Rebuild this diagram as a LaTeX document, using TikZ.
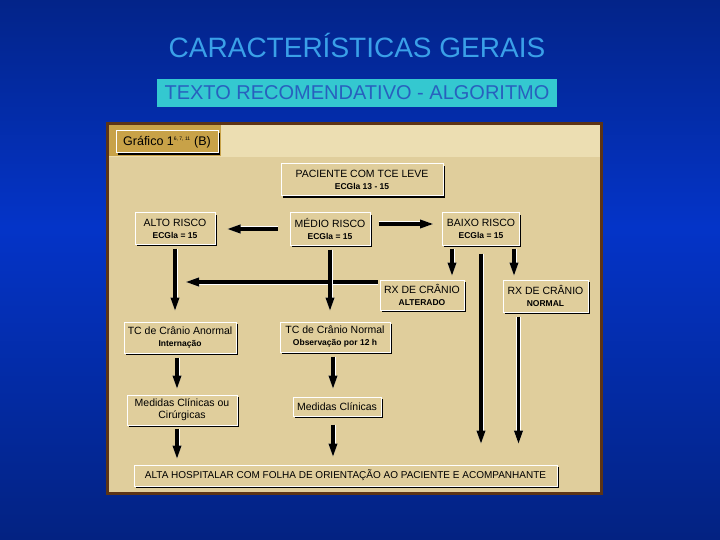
\documentclass[tikz,border=0pt]{standalone}
\usepackage{fontspec}
\setmainfont{Liberation Sans}
\usetikzlibrary{positioning}
\usetikzlibrary{arrows.meta}
\usetikzlibrary{shadows}

\definecolor{fundoescuro}{RGB}{2,26,98}
\definecolor{fundoclaro}{RGB}{4,52,200}
\definecolor{titulo}{RGB}{58,160,232}
\definecolor{faixa}{RGB}{52,200,208}
\definecolor{textofaixa}{RGB}{40,96,190}
\definecolor{painel}{RGB}{224,206,156}
\definecolor{painelclaro}{RGB}{236,222,178}
\definecolor{dourado}{RGB}{200,162,72}
\definecolor{moldura}{RGB}{92,52,22}

\pgfdeclareverticalshading{fundo}{100bp}{color(0bp)=(fundoescuro); color(12bp)=(fundoescuro);
  color(54bp)=(fundoclaro); color(88bp)=(fundoescuro); color(100bp)=(fundoescuro)}

\newcommand{\linhab}[1]{{\fontsize{8.5}{10}\selectfont\bfseries #1}}

\tikzset{
  caixa/.style={draw=white, line width=1pt, fill=painel, align=center, inner sep=1pt,
    general shadow={shadow xshift=1.6pt, shadow yshift=-1.6pt, fill=black},
    font=\fontsize{10.5}{12}\selectfont},
  seta/.style={line width=3.4pt, -{Triangle[length=14pt,width=8pt]},
    preaction={draw=white, line width=5pt}},
}

\begin{document}
\begin{tikzpicture}[x=1pt,y=-1pt]
\useasboundingbox (0,0) rectangle (720,540);
% fundo
\shade[shading=fundo] (0,0) rectangle (720,540);

% titulos
\node[text=titulo, font=\fontsize{28}{30}\selectfont] (titulo) at (357,45) {CARACTERÍSTICAS GERAIS};
\node[fill=faixa, text=textofaixa, minimum width=400pt, minimum height=28pt, inner sep=0pt,
  font=\fontsize{20}{22}\selectfont] (subtitulo) at (357,93) {TEXTO RECOMENDATIVO - ALGORITMO};

% painel
\draw[moldura, line width=3pt, fill=painel] (107,124) rectangle (601,493);
\fill[painelclaro] (108.5,125.5) rectangle (599.5,157);
\fill[dourado] (108.5,125.5) rectangle (221,156);
\node[caixa, fill=dourado, minimum width=102pt, minimum height=22pt, font=\fontsize{12.5}{14}\selectfont]
  (grafico) at (167,142) {Gráfico 1\textsuperscript{\fontsize{5}{5}\selectfont 6, 7, 11} (B)};

% caixas
\node[caixa, minimum width=162pt, minimum height=32pt] (paciente) at (362,180) {PACIENTE COM TCE LEVE\\\linhab{ECGla 13 - 15}};
\node[caixa, minimum width=80pt, minimum height=31pt] (alto) at (175,228.5) {ALTO RISCO\\\linhab{ECGla = 15}};
\node[caixa, minimum width=80pt, minimum height=32pt] (medio) at (330,229) {MÉDIO RISCO\\\linhab{ECGla = 15}};
\node[caixa, minimum width=77pt, minimum height=32pt] (baixo) at (481,229) {BAIXO RISCO\\\linhab{ECGla = 15}};
\node[caixa, minimum width=84pt, minimum height=30pt] (rxalt) at (422,295) {RX DE CRÂNIO\\\linhab{ALTERADO}};
\node[caixa, minimum width=85pt, minimum height=32pt] (rxnorm) at (545.5,296) {RX DE CRÂNIO\\\linhab{NORMAL}};
\node[caixa, minimum width=112pt, minimum height=31pt] (tcanormal) at (180,337.5) {TC de Crânio Anormal\\\linhab{Internação}};
\node[caixa, minimum width=110pt, minimum height=30pt] (tcnormal) at (335,337) {TC de Crânio Normal\\\linhab{Observação por 12 h}};
\node[caixa, minimum width=110pt, minimum height=30pt] (medcir) at (182,410) {Medidas Clínicas ou\\Cirúrgicas};
\node[caixa, minimum width=88pt, minimum height=19pt] (medcli) at (337,406.5) {Medidas Clínicas};
\node[caixa, minimum width=423pt, minimum height=21pt, font=\fontsize{10}{12}\selectfont] (alta) at (345.5,475.5)
  {ALTA HOSPITALAR COM FOLHA DE ORIENTAÇÃO AO PACIENTE E ACOMPANHANTE};

% setas
\draw[seta, shorten <=12pt, shorten >=11pt] (medio.west) -- (medio.west -| alto.east);
\draw[seta, shorten <=8pt, shorten >=8pt] ([yshift=5pt]medio.east) -- ([yshift=5pt]medio.east -| baixo.west);
\draw[seta, shorten <=2pt, shorten >=10pt] ([yshift=13pt]rxalt.west) -- ([yshift=13pt]rxalt.west -| alto.south);
\draw[seta, shorten <=4pt, shorten >=10pt] (alto.south) -- (alto.south |- tcanormal.north);
\draw[seta, shorten <=4pt, shorten >=10pt] (medio.south) -- (medio.south |- tcnormal.north);
\draw[seta, shorten <=3pt, shorten >=3pt] ([xshift=-29pt]baixo.south) -- ([xshift=-29pt]baixo.south |- rxalt.north);
\draw[seta, shorten <=3pt, shorten >=3pt] ([xshift=33pt]baixo.south) -- ([xshift=33pt]baixo.south |- rxnorm.north);
\draw[seta, shorten <=8pt, shorten >=20pt] (baixo.south) -- (baixo.south |- alta.north);
\draw[seta, shorten <=4pt, shorten >=20pt] ([xshift=-27pt]rxnorm.south) -- ([xshift=-27pt]rxnorm.south |- alta.north);
\draw[seta, shorten <=4pt, shorten >=5pt] ([xshift=-3pt]tcanormal.south) -- ([xshift=-3pt]tcanormal.south |- medcir.north);
\draw[seta, shorten <=4pt, shorten >=7pt] ([xshift=-2pt]tcnormal.south) -- ([xshift=-2pt]tcnormal.south |- medcli.north);
\draw[seta, shorten <=3pt, shorten >=5pt] ([xshift=-5pt]medcir.south) -- ([xshift=-5pt]medcir.south |- alta.north);
\draw[seta, shorten <=8pt, shorten >=7pt] ([xshift=-4pt]medcli.south) -- ([xshift=-4pt]medcli.south |- alta.north);

\end{tikzpicture}
\end{document}
